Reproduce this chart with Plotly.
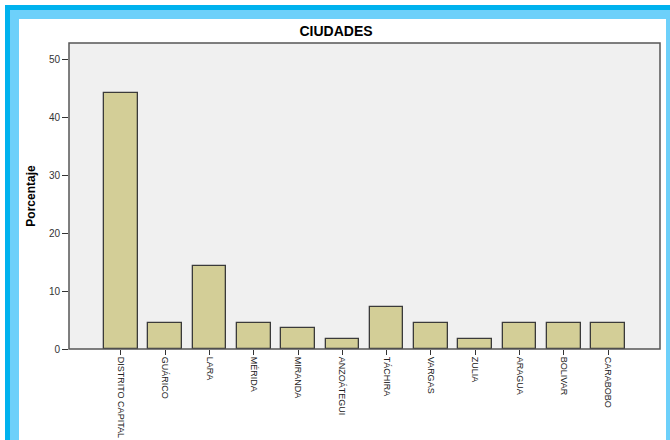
import plotly.graph_objects as go

ciudades = ["DISTRITO CAPITAL", "GUÁRICO", "LARA", "MÉRIDA", "MIRANDA", "ANZOÁTEGUI",
            "TÁCHIRA", "VARGAS", "ZULIA", "ARAGUA", "BOLIVAR", "CARABOBO"]
porcentaje = [44.1, 4.5, 14.4, 4.5, 3.6, 1.8, 7.2, 4.5, 1.8, 4.5, 4.5, 4.5]
y_ticks = [0, 10, 20, 30, 40, 50]

W, H = 670, 440
L, R, T, B = 69, 10, 43, 91
pw, ph = W - L - R, H - T - B

def px(x):
    return (x - L) / pw

def py(y):
    return (H - B - y) / ph

fig = go.Figure()
fig.add_trace(go.Bar(
    x=list(range(len(ciudades))), y=porcentaje, width=0.76,
    marker=dict(color="#D3CE97", line=dict(color="#3a3a3a", width=1.3)),
))

dark = "#00B2EE"
light = "#6DD0FA"
shapes = [
    dict(type="rect", xref="paper", yref="paper", x0=px(5), x1=px(671), y0=py(5), y1=py(10),
         fillcolor=dark, line=dict(width=0), layer="below"),
    dict(type="rect", xref="paper", yref="paper", x0=px(5), x1=px(10), y0=py(5), y1=py(441),
         fillcolor=dark, line=dict(width=0), layer="below"),
    dict(type="rect", xref="paper", yref="paper", x0=px(10), x1=px(671), y0=py(10), y1=py(19),
         fillcolor=light, line=dict(width=0), layer="below"),
    dict(type="rect", xref="paper", yref="paper", x0=px(10), x1=px(19), y0=py(10), y1=py(441),
         fillcolor=light, line=dict(width=0), layer="below"),
    dict(type="rect", xref="paper", yref="paper", x0=px(666), x1=px(671), y0=py(10), y1=py(441),
         fillcolor=light, line=dict(width=0), layer="below"),
    dict(type="rect", xref="paper", yref="paper", x0=0, x1=1, y0=0, y1=1,
         line=dict(color="#555555", width=1.5), fillcolor="rgba(0,0,0,0)"),
]

fig.update_layout(
    width=W, height=H,
    margin=dict(l=L, r=R, t=T, b=B),
    paper_bgcolor="white", plot_bgcolor="#F0F0F0",
    showlegend=False,
    shapes=shapes,
    title=dict(text="<b>CIUDADES</b>", xref="container", x=336 / W, xanchor="center",
               yref="container", y=1 - 31 / H, yanchor="middle",
               font=dict(family="Arial, Liberation Sans", size=14, color="black")),
    font=dict(family="Arial, Liberation Sans", size=9, color="#222"),
    bargap=0,
)
fig.update_xaxes(
    tickmode="array", tickvals=list(range(len(ciudades))), ticktext=ciudades,
    tickangle=90, range=[-1.17, 12.17], ticks="outside", ticklen=5, tickcolor="#333",
    showgrid=False, zeroline=False, showline=False, automargin=False,
    tickfont=dict(family="Arial, Liberation Sans", size=9, color="#222"),
)
fig.update_yaxes(
    tickmode="array", tickvals=y_ticks, range=[0, 52.8], ticks="outside", ticklen=6,
    tickcolor="#333", showgrid=False, zeroline=False, showline=False, automargin=False,
    title=dict(text="<b>Porcentaje</b>", font=dict(family="Arial, Liberation Sans", size=12, color="black"),
               standoff=10),
    tickfont=dict(family="Arial, Liberation Sans", size=10, color="#333"),
)
fig.write_html("out.html")
